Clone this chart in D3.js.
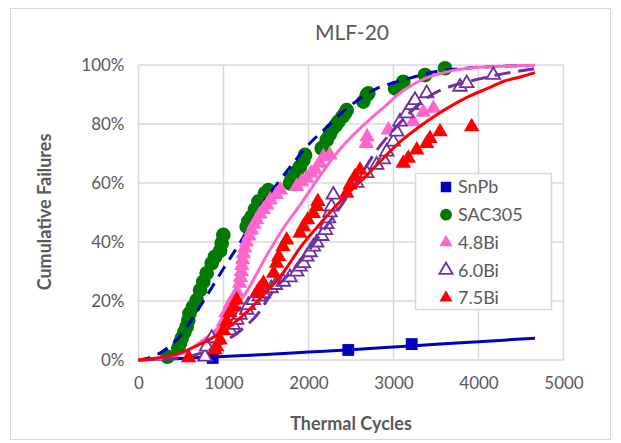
<!DOCTYPE html>
<html>
<head>
<meta charset="utf-8">
<script src="https://cdn.jsdelivr.net/npm/d3@7"></script>
<style>
  body { margin: 0; background: #fff; }
  text { font-family: Lato, "Open Sans", sans-serif; fill: #595959; }
</style>
</head>
<body>
<div id="chart"></div>
<script>
const width = 621;
const height = 443;

// data: [cycles, cumulative %]
const snpb = [[873, 0.7], [2468, 3.4], [3214, 5.4]];
const sac305 = [[340,1.1],[468,4],[488,5.7],[508,7.4],[540,9.5],[567,11.3],[586,13.5],[600,15.8],[640,18],[685,20.3],[724,23.7],[762,26.5],[802,29.4],[861,32.8],[900,35],[959,37],[979,39.6],[998,42.4],[1273,45.2],[1292,47],[1332,48.6],[1370,51],[1410,53.7],[1488,56.5],[1527,57.6],[1782,59.9],[1802,61.6],[1860,63.8],[1900,65.5],[1939,67.8],[1959,69.5],[2155,71.8],[2214,74.6],[2250,76.5],[2273,78],[2320,79.5],[2351,80.8],[2400,82.5],[2429,83.6],[2449,84.7],[2645,87.6],[2685,89.8],[2704,90.4],[3018,92.1],[3115,94.3],[3371,96.6],[3606,98.9]];
const bi48 = [[860,5],[930,8],[960,10],[1000,13],[1030,16],[1076,19],[1120,21],[1160,23],[1190,26],[1200,28],[1210,30],[1215,32],[1225,34],[1235,36],[1250,38],[1270,40],[1300,42],[1330,44],[1360,46],[1390,47.5],[1430,49.5],[1470,51],[1510,52.5],[1550,54.2],[1620,56],[1670,57.6],[1860,58.8],[1920,60.4],[1980,61.6],[2030,63.3],[2080,64.5],[2135,66.7],[2174,68.9],[2250,69.5],[2680,73.4],[2690,75.7],[2940,78],[3230,80.8],[3350,84],[3470,85.3]];
const bi60 = [[782,1.1],[802,4.5],[861,7.4],[1076,10],[1115,11.9],[1155,13.6],[1194,15.3],[1273,17],[1292,18.6],[1351,20.3],[1420,21.5],[1469,22.6],[1560,24.3],[1610,25.4],[1704,26.5],[1782,28],[1861,29.9],[1900,31.6],[1939,32.8],[1979,35],[2018,36.5],[2057,38.4],[2096,39.8],[2155,42],[2200,44],[2214,46],[2235,48],[2253,50],[2270,52],[2292,56],[2567,60],[2685,63.3],[2802,66.1],[2880,68],[2920,70.6],[2998,74],[3037,77.4],[3076,80.8],[3155,83.6],[3214,86.4],[3253,88.1],[3390,90.4],[3782,92.6],[3861,93.8],[4174,96.6]];
const bi75 = [[590,0.8],[900,3.4],[920,4.5],[960,6.8],[1000,10],[1040,13],[1076,16],[1120,18],[1155,20.3],[1390,22.6],[1420,24],[1470,26],[1590,29.4],[1625,32.8],[1650,35],[1700,38.4],[1743,40.7],[1900,43],[1940,45.2],[1990,47.5],[2057,49.7],[2096,52],[2110,53.7],[2450,56.5],[2490,59.3],[2547,62.1],[2606,64.4],[3115,66.7],[3174,68.4],[3273,71.2],[3390,73.4],[3429,75.1],[3547,77.4],[3920,79.1]];

// fitted curves
const snpbFit = [[0,0],[500,0.5],[1000,1.2],[1500,1.9],[2000,2.7],[2500,3.5],[3000,4.4],[3500,5.3],[4000,6.2],[4665,7.4]];
const sacFit = [[0,0],[150,1],[300,3.2],[500,8.5],[700,17],[850,24],[1000,31],[1100,35.5],[1200,40],[1400,50.5],[1600,58.5],[1800,66],[2000,73],[2200,78.5],[2400,84],[2600,88.5],[2800,92],[3000,94],[3250,96],[3500,97.8],[3800,98.8],[4200,99.5],[4600,99.8]];
const bi48Fit = [[0,0],[300,0.5],[500,2],[700,5.5],[900,10],[1100,16],[1300,24.5],[1500,35],[1700,44.5],[1900,52.5],[2100,61],[2300,69],[2500,75.5],[2700,81],[2900,86],[3100,91],[3300,94.5],[3600,97.5],[4000,99.2],[4665,99.9]];
const bi60Fit = [[0,0],[500,0.8],[800,3],[1000,6],[1200,10],[1400,15.5],[1600,24],[1800,30],[2000,37],[2200,45],[2400,53],[2600,62],[2800,71],[3000,78],[3200,84],[3400,89],[3600,92],[3800,93.8],[4000,95.2],[4200,96.5],[4665,98.8]];
const bi75Fit = [[0,0],[300,1],[500,2.5],[700,5],[900,8],[1100,12],[1300,17],[1500,23],[1700,29.5],[1900,38],[2100,45],[2300,51.5],[2500,57.5],[2700,63],[2900,69],[3100,74.5],[3300,79],[3500,83],[3700,86.5],[3900,89.5],[4100,92],[4300,94.5],[4500,96],[4665,97.4]];

const xTicks = [0, 1000, 2000, 3000, 4000, 5000];
const yTicks = [0, 20, 40, 60, 80, 100];
const seriesNames = ["SnPb", "SAC305", "4.8Bi", "6.0Bi", "7.5Bi"];

const margin = { left: 138.5, right: 57.5, top: 65, bottom: 83 };

const svg = d3.select("#chart")
  .append("svg")
  .attr("width", width)
  .attr("height", height);

// outer chart border
svg.append("rect")
  .attr("x", 10.5).attr("y", 8.5)
  .attr("width", 600).attr("height", 431)
  .attr("fill", "#fff")
  .attr("stroke", "#d9d9d9");

const x = d3.scaleLinear().domain([0, 5000]).range([margin.left, width - margin.right]);
const y = d3.scaleLinear().domain([0, 100]).range([height - margin.bottom, margin.top]);

// gridlines
const grid = svg.append("g");
grid.selectAll(".gx").data(xTicks).join("line")
  .attr("x1", d => x(d)).attr("x2", d => x(d))
  .attr("y1", y(0)).attr("y2", y(100))
  .attr("stroke", "#d9d9d9").attr("stroke-width", 1.5);
grid.selectAll(".gy").data(yTicks).join("line")
  .attr("x1", x(0)).attr("x2", x(5000))
  .attr("y1", d => y(d)).attr("y2", d => y(d))
  .attr("stroke", "#d9d9d9").attr("stroke-width", 1.5);

// axes (labels only)
const xAxis = svg.append("g")
  .attr("transform", `translate(0,${y(0)})`)
  .call(d3.axisBottom(x).tickValues(xTicks).tickSize(0).tickPadding(17).tickFormat(d3.format("d")));
const yAxis = svg.append("g")
  .attr("transform", `translate(${x(0)},0)`)
  .call(d3.axisLeft(y).tickValues(yTicks).tickSize(0).tickPadding(14).tickFormat(d => d + "%"));
[xAxis, yAxis].forEach(a => {
  a.select(".domain").remove();
  a.selectAll("text").style("font-size", "17px").attr("fill", "#595959");
});

svg.append("text")
  .attr("x", 352).attr("y", 40)
  .attr("text-anchor", "middle")
  .style("font-size", "21px")
  .text("MLF-20");

svg.append("text")
  .attr("x", 351).attr("y", 430)
  .attr("text-anchor", "middle")
  .style("font-size", "18px").style("font-weight", "bold")
  .text("Thermal Cycles");

svg.append("text")
  .attr("transform", "translate(51,212) rotate(-90)")
  .attr("text-anchor", "middle")
  .style("font-size", "18px").style("font-weight", "bold")
  .text("Cumulative Failures");

const line = d3.line()
  .x(d => x(d[0]))
  .y(d => y(d[1]))
  .curve(d3.curveMonotoneX);

const series = [
  { name: "SnPb", pts: snpb, fit: snpbFit, shape: d3.symbolSquare, size: 140, fill: "#0000c0", stroke: "none", line: "#0000c0", dash: null },
  { name: "SAC305", pts: sac305, fit: sacFit, shape: d3.symbolCircle, size: 170, fill: "#007a00", stroke: "none", line: "#0000c0", dash: "12,8" },
  { name: "4.8Bi", pts: bi48, fit: bi48Fit, shape: d3.symbolTriangle, size: 105, fill: "#ff66cc", stroke: "none", line: "#ff66cc", dash: null },
  { name: "6.0Bi", pts: bi60, fit: bi60Fit, shape: d3.symbolTriangle, size: 80, fill: "#fff", stroke: "#7030a0", line: "#7030a0", dash: "16,8" },
  { name: "7.5Bi", pts: bi75, fit: bi75Fit, shape: d3.symbolTriangle, size: 105, fill: "#ff0000", stroke: "none", line: "#ff0000", dash: null }
];

const plot = svg.append("g");
series.forEach(s => {
  plot.append("g").selectAll("path").data(s.pts).join("path")
    .attr("transform", d => `translate(${x(d[0])},${y(d[1])})`)
    .attr("d", d3.symbol().type(s.shape).size(s.size))
    .attr("fill", s.fill)
    .attr("stroke", s.stroke)
    .attr("stroke-width", 1.8);
  plot.append("path")
    .datum(s.fit)
    .attr("d", line)
    .attr("fill", "none")
    .attr("stroke", s.line)
    .attr("stroke-width", 3)
    .attr("stroke-dasharray", s.dash);
});

// legend
const legend = svg.append("g");
legend.append("rect")
  .attr("x", 415.5).attr("y", 173.5)
  .attr("width", 136).attr("height", 136)
  .attr("fill", "#fff")
  .attr("stroke", "#d9d9d9").attr("stroke-width", 1.5);
const item = legend.selectAll(".item").data(series).join("g")
  .attr("transform", (d, i) => `translate(446,${187 + i * 27.7})`);
item.append("path")
  .attr("d", d => d3.symbol().type(d.shape).size(d.shape === d3.symbolTriangle ? 75 : 110)())
  .attr("fill", d => d.fill)
  .attr("stroke", d => d.stroke)
  .attr("stroke-width", 1.8);
item.append("text")
  .attr("x", 12).attr("dy", "0.36em")
  .style("font-size", "18px")
  .text((d, i) => seriesNames[i]);
</script>
</body>
</html>
